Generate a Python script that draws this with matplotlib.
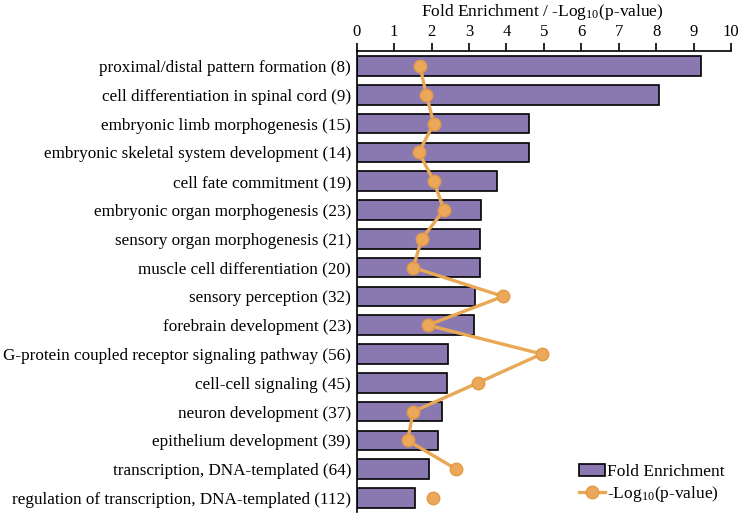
import matplotlib
matplotlib.use('Agg')
from matplotlib import pyplot as plt
import numpy as np

plt.rcParams['font.family'] = ['Liberation Serif', 'DejaVu Serif']
plt.rcParams['mathtext.fontset'] = 'stix'

categories = [
    'proximal/distal pattern formation (8)',
    'cell differentiation in spinal cord (9)',
    'embryonic limb morphogenesis (15)',
    'embryonic skeletal system development (14)',
    'cell fate commitment (19)',
    'embryonic organ morphogenesis (23)',
    'sensory organ morphogenesis (21)',
    'muscle cell differentiation (20)',
    'sensory perception (32)',
    'forebrain development (23)',
    'G-protein coupled receptor signaling pathway (56)',
    'cell-cell signaling (45)',
    'neuron development (37)',
    'epithelium development (39)',
    'transcription, DNA-templated (64)',
    'regulation of transcription, DNA-templated (112)',
]
fold_enrichment = [9.20, 8.07, 4.61, 4.61, 3.75, 3.33, 3.29, 3.29,
                   3.17, 3.13, 2.43, 2.40, 2.29, 2.17, 1.93, 1.55]
neg_log_p = [1.69, 1.86, 2.06, 1.66, 2.06, 2.33, 1.74, 1.51,
             3.91, 1.90, 4.94, 3.24, 1.51, 1.36, 2.66, 2.03]

bar_color = '#8a79b0'
line_color = '#e8a855'

fig = plt.figure(figsize=(7.4, 5.15), dpi=100)
ax = fig.add_axes([0.482, 0.005, 0.506, 0.895])

y = np.arange(len(categories))
bars = ax.barh(y, fold_enrichment, height=0.68, color=bar_color,
               edgecolor='black', linewidth=1.2, label='Fold Enrichment')
# the last point is not joined to the line in the original
line, = ax.plot(neg_log_p[:-1], y[:-1], color=line_color, linewidth=2.4,
                marker='o', markersize=9, markerfacecolor='#eba75a',
                markeredgecolor='#e39a45',
                label='-Log$_{\\mathregular{10}}$(p-value)')
ax.plot(neg_log_p[-1:], y[-1:], linestyle='none', marker='o', markersize=9,
        markerfacecolor='#eba75a', markeredgecolor='#e39a45')

ax.set_xlim(0, 10)
ax.set_ylim(len(categories) - 0.5, -0.5)
ax.set_xticks(range(0, 11))
ax.xaxis.tick_top()
fig.text(0.733, 0.997, 'Fold Enrichment / -Log$_{\\mathregular{10}}$(p-value)',
         fontsize=12.5, ha='center', va='top')
ax.set_yticks(y)
ax.set_yticklabels(categories, fontsize=12.3)
ax.tick_params(axis='y', length=0, pad=4)
ax.tick_params(axis='x', labelsize=12, length=6, width=1.2, pad=2)
for side in ['right', 'bottom']:
    ax.spines[side].set_visible(False)
for side in ['left', 'top']:
    ax.spines[side].set_linewidth(1.2)

leg = ax.legend([bars, line], ['Fold Enrichment', '-Log$_{\\mathregular{10}}$(p-value)'],
                loc='lower right', bbox_to_anchor=(1.01, -0.005), frameon=False,
                fontsize=12.5, handlelength=1.5, handletextpad=0.1,
                labelspacing=0.25, borderpad=0.1)

fig.savefig('out.png', dpi=100)
